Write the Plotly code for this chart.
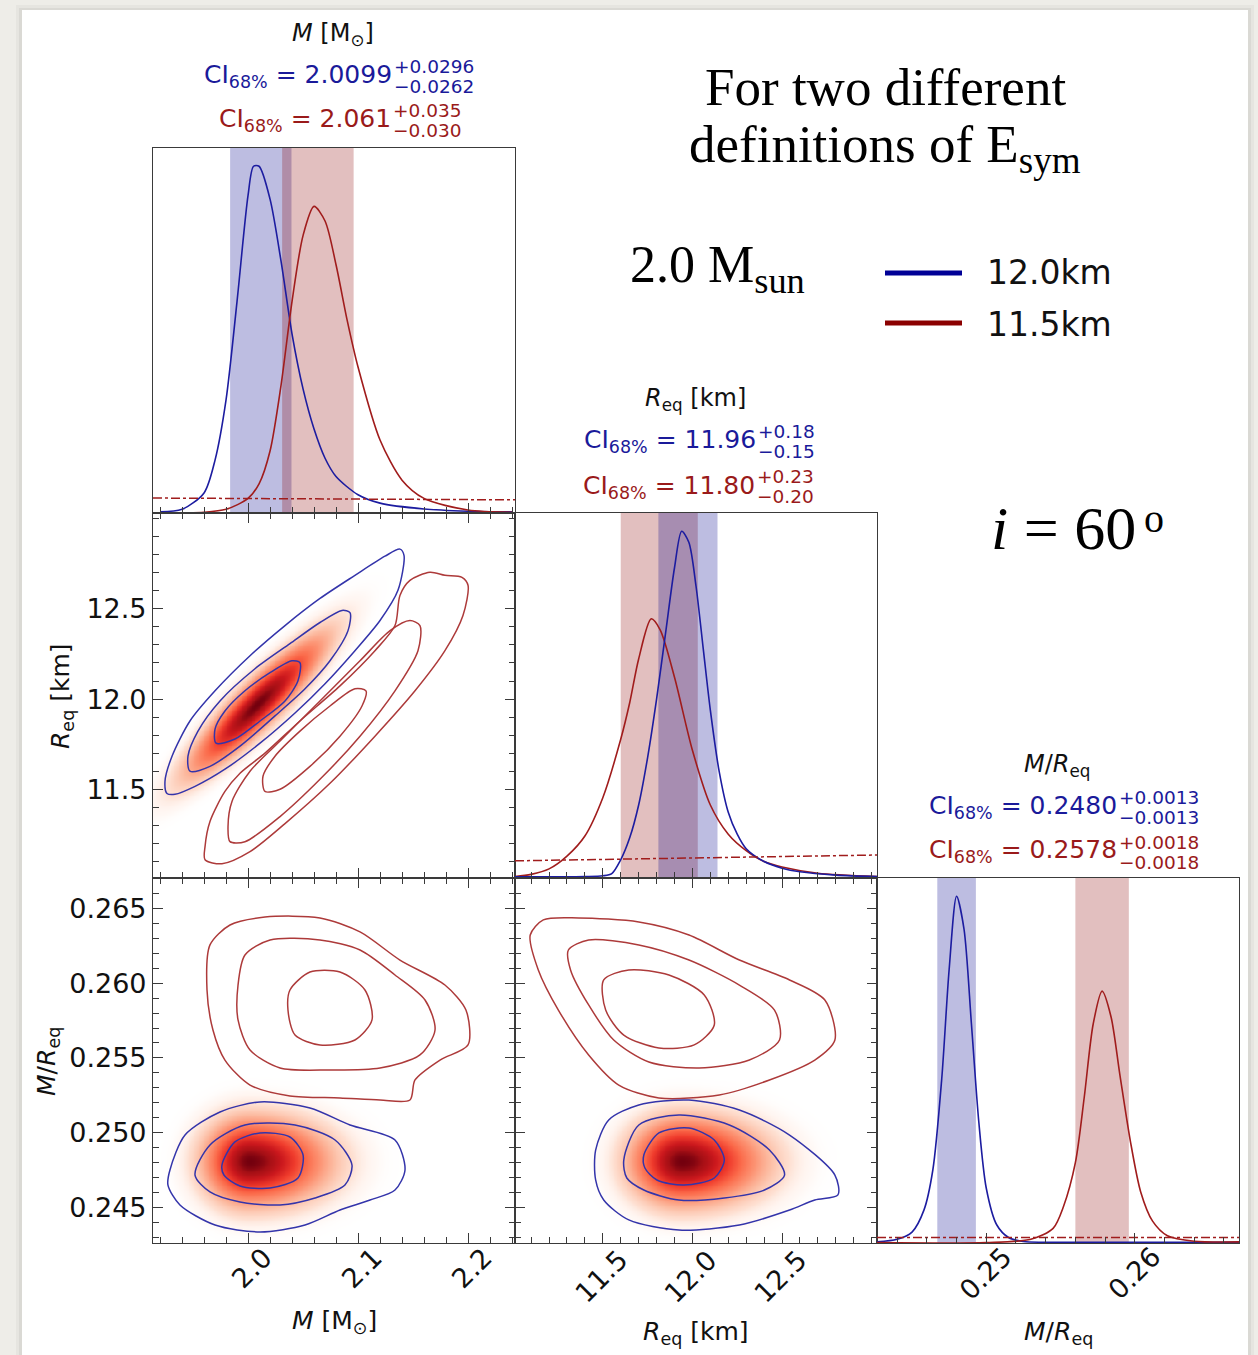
import numpy as np
import plotly.graph_objects as go

W, H = 1258, 1355

# ---------------- axis ranges / ticks ----------------
M_RANGE = [1.9136, 2.2427]
R_RANGE = [11.01, 13.03]
C_RANGE = [0.24264, 0.26702]
P_RANGE = [0.0, 1.0]
M_TICKS = [2.0, 2.1, 2.2]
R_TICKS = [11.5, 12.0, 12.5]
C_TICKS_Y = [0.245, 0.250, 0.255, 0.260, 0.265]
C_TICKS_X = [0.25, 0.26]

# ---------------- 68% credible intervals (value, +err, -err) ----------------
CI_M_BLUE = [2.0099, 0.0296, 0.0262]
CI_M_RED = [2.061, 0.035, 0.030]
CI_R_BLUE = [11.96, 0.18, 0.15]
CI_R_RED = [11.80, 0.23, 0.20]
CI_C_BLUE = [0.2480, 0.0013, 0.0013]
CI_C_RED = [0.2578, 0.0018, 0.0018]

LEGEND_LABELS = ["12.0km", "11.5km"]

# ---------------- 1D marginal posteriors (normalised heights) ----------------
M_GRID_BLUE = [1.92, 1.94, 1.96, 1.97, 1.98, 1.99, 2.00, 2.005, 2.01, 2.02, 2.03, 2.04, 2.05, 2.06, 2.07, 2.08, 2.10, 2.12, 2.16, 2.20, 2.24]
M_PDF_BLUE = [0.003, 0.01, 0.055, 0.145, 0.31, 0.58, 0.87, 0.95, 0.95, 0.86, 0.69, 0.49, 0.34, 0.23, 0.15, 0.10, 0.05, 0.027, 0.011, 0.005, 0.003]
M_GRID_RED = [1.92, 1.96, 1.98, 2.00, 2.01, 2.02, 2.03, 2.04, 2.05, 2.06, 2.07, 2.08, 2.09, 2.10, 2.12, 2.14, 2.16, 2.20, 2.24]
M_PDF_RED = [0.0, 0.002, 0.01, 0.04, 0.08, 0.17, 0.35, 0.58, 0.76, 0.84, 0.80, 0.68, 0.53, 0.40, 0.20, 0.09, 0.04, 0.008, 0.002]
M_PRIOR = [0.041, 0.036]

R_GRID_BLUE = [11.01, 11.4, 11.5, 11.55, 11.6, 11.65, 11.7, 11.75, 11.8, 11.85, 11.9, 11.94, 11.98, 12.02, 12.06, 12.1, 12.15, 12.2, 12.25, 12.3, 12.4, 12.5, 12.6, 12.8, 13.03]
R_PDF_BLUE = [0.003, 0.004, 0.006, 0.012, 0.05, 0.11, 0.2, 0.33, 0.49, 0.67, 0.85, 0.95, 0.92, 0.80, 0.63, 0.46, 0.29, 0.18, 0.12, 0.08, 0.045, 0.027, 0.017, 0.008, 0.004]
R_GRID_RED = [11.01, 11.1, 11.2, 11.3, 11.4, 11.5, 11.6, 11.65, 11.7, 11.77, 11.82, 11.9, 12.0, 12.1, 12.2, 12.3, 12.4, 12.5, 12.7, 13.03]
R_PDF_RED = [0.004, 0.01, 0.025, 0.06, 0.115, 0.22, 0.38, 0.48, 0.60, 0.71, 0.68, 0.55, 0.35, 0.20, 0.12, 0.075, 0.045, 0.03, 0.013, 0.004]
R_PRIOR = [0.047, 0.063]

C_GRID_BLUE = [0.24264, 0.2440, 0.2450, 0.2458, 0.2464, 0.2470, 0.2475, 0.2480, 0.2485, 0.2490, 0.2495, 0.2500, 0.2507, 0.2515, 0.2525, 0.2540, 0.26702]
C_PDF_BLUE = [0.003, 0.01, 0.03, 0.09, 0.2, 0.45, 0.75, 0.95, 0.86, 0.6, 0.33, 0.15, 0.05, 0.015, 0.004, 0.002, 0.002]
C_GRID_RED = [0.24264, 0.2500, 0.2530, 0.2545, 0.2552, 0.2560, 0.2566, 0.2572, 0.2578, 0.2584, 0.2590, 0.2597, 0.2604, 0.2612, 0.2622, 0.2640, 0.26702]
C_PDF_RED = [0.001, 0.001, 0.01, 0.04, 0.1, 0.22, 0.4, 0.6, 0.69, 0.62, 0.46, 0.28, 0.14, 0.06, 0.02, 0.005, 0.003]
C_PRIOR = [0.015, 0.015]

# ---------------- 2D credible contours ----------------
# M vs R_eq
MR_BLUE_OUTER = [(1.9263, 11.478), (1.9336, 11.473), (1.9518, 11.517), (1.979, 11.612), (2.0109, 11.756), (2.0427, 11.923), (2.070, 12.085), (2.0972, 12.268), (2.12, 12.435), (2.1363, 12.602), (2.1418, 12.796), (2.1381, 12.830), (2.1245, 12.791), (2.0972, 12.685), (2.0654, 12.557), (2.0336, 12.407), (2.0018, 12.240), (1.97, 12.046), (1.9472, 11.879), (1.9309, 11.684), (1.9245, 11.545)]
MR_BLUE_MID = [(1.9472, 11.601), (1.9654, 11.628), (1.9927, 11.740), (2.0245, 11.907), (2.0518, 12.057), (2.0745, 12.212), (2.0909, 12.379), (2.0927, 12.479), (2.0854, 12.491), (2.0654, 12.424), (2.0381, 12.307), (2.0063, 12.168), (1.9745, 11.990), (1.9545, 11.823), (1.9454, 11.684)]
MR_BLUE_INNER = [(1.9709, 11.756), (1.9881, 11.779), (2.0109, 11.879), (2.0336, 11.990), (2.0454, 12.101), (2.0472, 12.201), (2.04, 12.212), (2.02, 12.146), (1.9972, 12.046), (1.979, 11.934), (1.97, 11.834)]
MR_RED_OUTER = [(1.9609, 11.111), (1.9763, 11.089), (2.0018, 11.156), (2.0336, 11.311), (2.0745, 11.534), (2.1154, 11.795), (2.1518, 12.046), (2.179, 12.268), (2.1954, 12.463), (2.2, 12.630), (2.1945, 12.674), (2.179, 12.685), (2.1654, 12.702), (2.1472, 12.657), (2.1381, 12.574), (2.1336, 12.407), (2.1154, 12.268), (2.0836, 12.073), (2.0472, 11.879), (2.0154, 11.701), (1.9927, 11.590), (1.979, 11.489), (1.9654, 11.323), (1.9609, 11.184)]
MR_RED_MID = [(1.9836, 11.211), (1.9972, 11.211), (2.0291, 11.350), (2.0654, 11.556), (2.1018, 11.795), (2.1336, 12.046), (2.1545, 12.268), (2.1563, 12.407), (2.1472, 12.435), (2.1291, 12.379), (2.1018, 12.212), (2.0654, 11.990), (2.0291, 11.768), (2.0018, 11.601), (1.9854, 11.434), (1.9818, 11.295)]
MR_RED_INNER = [(2.0154, 11.489), (2.0291, 11.501), (2.0563, 11.628), (2.0836, 11.795), (2.1036, 11.962), (2.1072, 12.046), (2.0972, 12.057), (2.0745, 11.962), (2.0472, 11.823), (2.0245, 11.684), (2.0136, 11.573)]

# M vs M/R_eq
MC_RED_OUTER = [(1.9654, 0.26255), (1.9836, 0.26388), (2.0154, 0.26441), (2.0654, 0.26435), (2.1018, 0.26342), (2.1381, 0.26154), (2.179, 0.25987), (2.1981, 0.25820), (2.2, 0.25587), (2.1745, 0.25486), (2.1518, 0.25353), (2.1472, 0.25219), (2.12, 0.25219), (2.0836, 0.25233), (2.0381, 0.25246), (2.0018, 0.25319), (1.979, 0.25486), (1.9681, 0.25687), (1.9627, 0.25954)]
MC_RED_MID = [(1.9909, 0.25987), (1.9972, 0.26188), (2.02, 0.26288), (2.0654, 0.26288), (2.1018, 0.26221), (2.1336, 0.26054), (2.1609, 0.25887), (2.17, 0.25687), (2.1563, 0.25520), (2.12, 0.25433), (2.0745, 0.25420), (2.0291, 0.25433), (2.0018, 0.25553), (1.9909, 0.25754)]
MC_RED_INNER = [(2.0381, 0.25954), (2.0563, 0.26074), (2.0836, 0.26074), (2.1063, 0.25954), (2.1127, 0.25754), (2.0972, 0.25620), (2.0654, 0.25587), (2.0427, 0.25653), (2.0363, 0.25820)]
MC_BLUE_OUTER = [(1.929, 0.24752), (1.9427, 0.24985), (1.9745, 0.25139), (2.0109, 0.25206), (2.0563, 0.25166), (2.0927, 0.25052), (2.1336, 0.24952), (2.1427, 0.24752), (2.1336, 0.24618), (2.1109, 0.24551), (2.0836, 0.24484), (2.0518, 0.24384), (2.0109, 0.24338), (1.97, 0.24384), (1.9381, 0.24518), (1.9272, 0.24651)]
MC_BLUE_MID = [(1.9518, 0.24718), (1.9654, 0.24919), (1.9972, 0.25052), (2.0427, 0.25052), (2.0791, 0.24952), (2.0945, 0.24785), (2.0881, 0.24651), (2.0609, 0.24565), (2.0291, 0.24518), (1.9927, 0.24538), (1.9654, 0.24605)]
MC_BLUE_INNER = [(1.9763, 0.24785), (1.9881, 0.24939), (2.0109, 0.24999), (2.0381, 0.24972), (2.05, 0.24852), (2.0454, 0.24698), (2.02, 0.24631), (1.9927, 0.24645), (1.9781, 0.24718)]

# R_eq vs M/R_eq
RC_RED_OUTER = [(11.095, 0.26321), (11.168, 0.26422), (11.365, 0.26435), (11.701, 0.26408), (11.981, 0.26321), (12.262, 0.26154), (12.542, 0.26021), (12.739, 0.25887), (12.795, 0.25620), (12.683, 0.25486), (12.430, 0.25353), (12.150, 0.25253), (11.813, 0.25233), (11.589, 0.25319), (11.421, 0.25520), (11.252, 0.25820), (11.140, 0.26088)]
RC_RED_MID = [(11.308, 0.26221), (11.421, 0.26288), (11.701, 0.26255), (11.981, 0.26154), (12.262, 0.25987), (12.458, 0.25820), (12.486, 0.25620), (12.318, 0.25486), (12.038, 0.25433), (11.757, 0.25473), (11.561, 0.25620), (11.421, 0.25854), (11.320, 0.26088)]
RC_RED_INNER = [(11.505, 0.26021), (11.645, 0.26088), (11.869, 0.26054), (12.066, 0.25921), (12.122, 0.25720), (12.010, 0.25587), (11.813, 0.25567), (11.617, 0.25653), (11.516, 0.25820)]
RC_BLUE_OUTER = [(11.460, 0.24885), (11.533, 0.25086), (11.701, 0.25186), (11.981, 0.25219), (12.262, 0.25152), (12.542, 0.24985), (12.795, 0.24718), (12.812, 0.24585), (12.683, 0.24551), (12.542, 0.24484), (12.262, 0.24384), (11.925, 0.24351), (11.645, 0.24418), (11.505, 0.24551), (11.460, 0.24685)]
RC_BLUE_MID = [(11.617, 0.24818), (11.701, 0.25052), (11.925, 0.25119), (12.206, 0.25052), (12.430, 0.24885), (12.514, 0.24718), (12.402, 0.24618), (12.178, 0.24565), (11.925, 0.24551), (11.729, 0.24618), (11.634, 0.24698)]
RC_BLUE_INNER = [(11.729, 0.24852), (11.813, 0.24999), (11.981, 0.25032), (12.122, 0.24952), (12.178, 0.24818), (12.122, 0.24698), (11.953, 0.24651), (11.802, 0.24685), (11.735, 0.24765)]

# ---------------- density shading parameters (12.0 km posterior) ----------------
DENS_MR = dict(x0=2.008, y0=11.97, sx=0.0382, sy=0.2337, rho=0.905)
DENS_MC = dict(x0=2.001, y0=0.2481, sxl=0.026, sxr=0.044, sy=0.0018)
DENS_RC = dict(x0=11.94, y0=0.2481, sxl=0.18, sxr=0.28, sy=0.0018)

# ---------------- styling ----------------
BLUE_LINE = "#1c1ca0"
RED_LINE = "#a01c1c"
BLUE_CNT = "#3434aa"
RED_CNT = "#ad3a3a"
BLUE_TXT = "#1a1a9a"
RED_TXT = "#9a1a1a"
BLUE_BAND = "rgba(0,0,139,0.26)"
RED_BAND = "rgba(139,0,0,0.25)"
AX = "#3a3a3a"
SANS = "DejaVu Sans"
SERIF = "Liberation Serif"
REDS = [[0.0, "rgba(255,255,255,0)"], [0.03, "rgba(255,245,240,0.6)"], [0.1, "rgb(254,224,210)"],
        [0.22, "rgb(252,187,161)"], [0.35, "rgb(252,146,114)"], [0.5, "rgb(251,106,74)"],
        [0.65, "rgb(239,59,44)"], [0.8, "rgb(203,24,29)"], [0.92, "rgb(165,15,21)"], [1.0, "rgb(115,0,14)"]]


def px(x):
    return x / W


def py(y):
    return 1 - y / H


COL = [[px(153), px(515)], [px(515), px(877)], [px(877), px(1239)]]
ROW = [[py(513), py(148)], [py(878), py(513)], [py(1243), py(878)]]

fig = go.Figure()


def line(xs, ys, color, ax_id, width=1.6, dash=None, shape="spline"):
    fig.add_trace(go.Scatter(x=xs, y=ys, mode="lines", xaxis="x" + ax_id, yaxis="y" + ax_id,
                             line=dict(color=color, width=width, dash=dash, shape=shape, smoothing=0.8),
                             hoverinfo="skip", showlegend=False))


def contour(pts, color, ax_id):
    xs = [p[0] for p in pts] + [pts[0][0]]
    ys = [p[1] for p in pts] + [pts[0][1]]
    line(xs, ys, color, ax_id, width=1.5)


def density(ax_id, xr, yr, p, split=False):
    xg = np.linspace(xr[0], xr[1], 220)
    yg = np.linspace(yr[0], yr[1], 220)
    X, Y = np.meshgrid(xg, yg)
    if split:
        sx = np.where(X < p["x0"], p["sxl"], p["sxr"])
        u = (X - p["x0"]) / sx
        v = (Y - p["y0"]) / p["sy"]
        q = u ** 2 + v ** 2
    else:
        u = (X - p["x0"]) / p["sx"]
        v = (Y - p["y0"]) / p["sy"]
        q = (u ** 2 - 2 * p["rho"] * u * v + v ** 2) / (1 - p["rho"] ** 2)
    Z = np.exp(-0.5 * q)
    fig.add_trace(go.Heatmap(x=xg, y=yg, z=Z, xaxis="x" + ax_id, yaxis="y" + ax_id,
                             colorscale=REDS, zmin=0, zmax=1, showscale=False, zsmooth="best",
                             hoverinfo="skip"))


# ---- panel 1: M marginal ----
line(M_GRID_BLUE, M_PDF_BLUE, BLUE_LINE, "")
line(M_GRID_RED, M_PDF_RED, RED_LINE, "")
line(M_RANGE, M_PRIOR, RED_LINE, "", width=1.5, dash="dashdot", shape="linear")

# ---- panel 2: M vs R ----
density("2", M_RANGE, R_RANGE, DENS_MR)
for c in (MR_RED_OUTER, MR_RED_MID, MR_RED_INNER):
    contour(c, RED_CNT, "2")
for c in (MR_BLUE_OUTER, MR_BLUE_MID, MR_BLUE_INNER):
    contour(c, BLUE_CNT, "2")

# ---- panel 3: R marginal ----
line(R_GRID_RED, R_PDF_RED, RED_LINE, "3")
line(R_GRID_BLUE, R_PDF_BLUE, BLUE_LINE, "3")
line(R_RANGE, R_PRIOR, RED_LINE, "3", width=1.5, dash="dashdot", shape="linear")

# ---- panel 4: M vs M/R ----
density("4", M_RANGE, C_RANGE, DENS_MC, split=True)
for c in (MC_RED_OUTER, MC_RED_MID, MC_RED_INNER):
    contour(c, RED_CNT, "4")
for c in (MC_BLUE_OUTER, MC_BLUE_MID, MC_BLUE_INNER):
    contour(c, BLUE_CNT, "4")

# ---- panel 5: R vs M/R ----
density("5", R_RANGE, C_RANGE, DENS_RC, split=True)
for c in (RC_RED_OUTER, RC_RED_MID, RC_RED_INNER):
    contour(c, RED_CNT, "5")
for c in (RC_BLUE_OUTER, RC_BLUE_MID, RC_BLUE_INNER):
    contour(c, BLUE_CNT, "5")

# ---- panel 6: M/R marginal ----
line(C_GRID_BLUE, C_PDF_BLUE, BLUE_LINE, "6")
line(C_GRID_RED, C_PDF_RED, RED_LINE, "6")
line(C_RANGE, C_PRIOR, RED_LINE, "6", width=1.5, dash="dashdot", shape="linear")


# ---------------- axes ----------------
TICKFONT = dict(family=SANS, size=27, color="#111111")


def axis(domain, rng, anchor, tickvals=None, minor=None, minor0=None, labels=False, mirror="ticks",
         ticks="inside", fmt=None):
    d = dict(domain=domain, range=rng, anchor=anchor, showline=True, linecolor=AX, linewidth=1.2,
             mirror=mirror, showgrid=False, zeroline=False, ticks=ticks, ticklen=10, tickwidth=1.2,
             tickcolor=AX, showticklabels=labels, tickfont=TICKFONT, fixedrange=True, automargin=False)
    d.update(tickmode="array", tickvals=tickvals if tickvals is not None else [])
    if minor is not None:
        d["minor"] = dict(ticks=ticks, ticklen=6, tickwidth=1.2, tickcolor=AX, dtick=minor, tick0=minor0,
                          tickmode="linear", showgrid=False)
    if fmt:
        d["tickformat"] = fmt
    return d


layout_axes = {
    "xaxis": axis(COL[0], M_RANGE, "y", M_TICKS, 0.02, 2.0, mirror=True),
    "yaxis": axis(ROW[0], P_RANGE, "x", mirror=True, ticks=""),
    "xaxis2": axis(COL[0], M_RANGE, "y2", M_TICKS, 0.02, 2.0),
    "yaxis2": axis(ROW[1], R_RANGE, "x2", R_TICKS, 0.1, 11.5, labels=True, fmt=".1f"),
    "xaxis3": axis(COL[1], R_RANGE, "y3", R_TICKS, 0.1, 11.5, mirror=True),
    "yaxis3": axis(ROW[1], P_RANGE, "x3", mirror=True, ticks=""),
    "xaxis4": axis(COL[0], M_RANGE, "y4", M_TICKS, 0.02, 2.0),
    "yaxis4": axis(ROW[2], C_RANGE, "x4", C_TICKS_Y, 0.001, 0.245, labels=True, fmt=".3f"),
    "xaxis5": axis(COL[1], R_RANGE, "y5", R_TICKS, 0.1, 11.5),
    "yaxis5": axis(ROW[2], C_RANGE, "x5", C_TICKS_Y, 0.001, 0.245),
    "xaxis6": axis(COL[2], C_RANGE, "y6", C_TICKS_X, 0.002, 0.25, mirror=True),
    "yaxis6": axis(ROW[2], P_RANGE, "x6", mirror=True, ticks=""),
}

# ---------------- CI bands ----------------
shapes = []


def band(ci, color, xref, yref):
    shapes.append(dict(type="rect", xref=xref, yref=yref + " domain", x0=ci[0] - ci[2], x1=ci[0] + ci[1],
                       y0=0, y1=1, fillcolor=color, line=dict(width=0), layer="below"))


band(CI_M_BLUE, BLUE_BAND, "x", "y")
band(CI_M_RED, RED_BAND, "x", "y")
band(CI_R_RED, RED_BAND, "x3", "y3")
band(CI_R_BLUE, BLUE_BAND, "x3", "y3")
band(CI_C_BLUE, BLUE_BAND, "x6", "y6")
band(CI_C_RED, RED_BAND, "x6", "y6")

# background card
bg = [
    dict(type="rect", xref="paper", yref="paper", x0=px(16), x1=px(1254), y0=0, y1=py(5),
         fillcolor="rgba(0,0,0,0.03)", line=dict(width=0), layer="below"),
    dict(type="rect", xref="paper", yref="paper", x0=px(19), x1=px(1251), y0=0, y1=py(8),
         fillcolor="rgba(0,0,0,0.05)", line=dict(width=0), layer="below"),
    dict(type="rect", xref="paper", yref="paper", x0=px(22), x1=px(1248), y0=0, y1=py(10),
         fillcolor="white", line=dict(width=0), layer="below"),
]

# legend lines
legend_shapes = [
    dict(type="line", xref="paper", yref="paper", x0=px(885), x1=px(962), y0=py(273), y1=py(273),
         line=dict(color="#000096", width=5)),
    dict(type="line", xref="paper", yref="paper", x0=px(885), x1=px(962), y0=py(323), y1=py(323),
         line=dict(color="#8b0000", width=5)),
]

# ---------------- annotations ----------------
ann = []


def text(x, y, s, size, color="#111", family=SANS, xanchor="center", yanchor="middle", angle=0):
    ann.append(dict(x=px(x), y=py(y), xref="paper", yref="paper", text=s, showarrow=False,
                    font=dict(family=family, size=size, color=color), xanchor=xanchor, yanchor=yanchor,
                    textangle=angle, borderpad=0))


def xtick_labels(vals, fmt, xref, y, xshift):
    for v in vals:
        ann.append(dict(x=v, y=py(y), xref=xref, yref="paper", text=format(v, fmt), showarrow=False,
                        font=TICKFONT, xanchor="center", yanchor="middle", textangle=-45,
                        xshift=xshift, borderpad=0))


def ci_text(right_x, y_main, y_sup, y_sub, ci, dec, color):
    text(right_x, y_main, "CI<sub>68%</sub> = " + f"{ci[0]:.{dec}f}", 25, color, xanchor="right")
    text(right_x, y_sup, "+" + f"{ci[1]:.{dec}f}", 18.5, color, xanchor="left", yanchor="bottom")
    text(right_x, y_sub, "\u2212" + f"{ci[2]:.{dec}f}", 18.5, color, xanchor="left", yanchor="top")


# rotated x tick labels
xtick_labels(M_TICKS, ".1f", "x4", 1268, 3)
xtick_labels(R_TICKS, ".1f", "x5", 1276, -2)
xtick_labels(C_TICKS_X, ".2f", "x6", 1273, -1)

# panel titles
text(333, 35, "<i>M</i> [M<sub>\u2299</sub>]", 24)
ci_text(393, 76, 78, 75, CI_M_BLUE, 4, BLUE_TXT)
ci_text(392, 120, 122, 119, CI_M_RED, 3, RED_TXT)

text(695, 399, "<i>R</i><sub>eq</sub> [km]", 24)
ci_text(757, 441, 443, 440, CI_R_BLUE, 2, BLUE_TXT)
ci_text(756, 487, 488, 485, CI_R_RED, 2, RED_TXT)

text(1057, 765, "<i>M</i>/<i>R</i><sub>eq</sub>", 24)
ci_text(1118, 807, 809, 806, CI_C_BLUE, 4, BLUE_TXT)
ci_text(1118, 851, 854, 851, CI_C_RED, 4, RED_TXT)

# axis titles
text(334, 1322, "<i>M</i> [M<sub>\u2299</sub>]", 25)
text(696, 1333, "<i>R</i><sub>eq</sub> [km]", 25)
text(1058, 1333, "<i>M</i>/<i>R</i><sub>eq</sub>", 25)
text(62, 696, "<i>R</i><sub>eq</sub> [km]", 25, angle=-90)
text(48, 1062, "<i>M</i>/<i>R</i><sub>eq</sub>", 25, angle=-90)

# free text
text(885, 87, "For two different", 53, "#000", SERIF)
text(885, 148, "definitions of E<sub>sym</sub>", 53, "#000", SERIF)
text(717, 269, "2.0 M<sub>sun</sub>", 52, "#000", SERIF)
text(1063, 528, "<i>i</i> = 60", 62, "#000", SERIF)
text(1154, 519, "o", 40, "#000", SERIF)

# legend labels
text(986, 273, LEGEND_LABELS[0], 33, xanchor="left")
text(986, 325, LEGEND_LABELS[1], 33, xanchor="left")

fig.update_layout(
    template="none",
    width=W, height=H, margin=dict(l=0, r=0, t=0, b=0, pad=0), autosize=False,
    paper_bgcolor="#eeede8", plot_bgcolor="rgba(0,0,0,0)",
    showlegend=False, shapes=bg + shapes + legend_shapes, annotations=ann,
    **layout_axes,
)

fig.write_html("out.html")
